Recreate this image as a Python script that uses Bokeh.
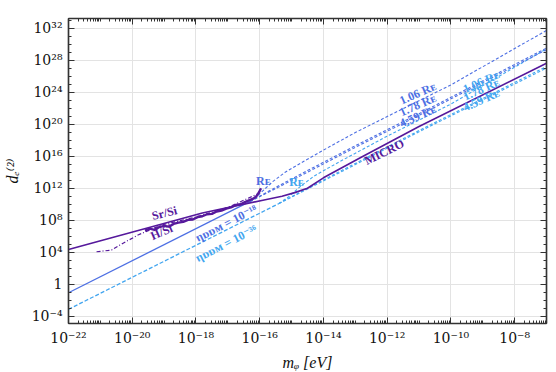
import numpy as np
from bokeh.plotting import figure
from bokeh.models import FixedTicker, CustomJSTickFormatter, LogAxis, Range1d
from bokeh.core.properties import value
from bokeh.embed import file_html
from bokeh.resources import INLINE

# ---------------- data (log10 of m_phi [eV] and log10 of d_e^(2)) ----------------
micro_logm = [-22.0, -17.8, -15.9, -15.3, -14.9, -14.5, -14.0, -12.8, -11.0, -7.0]
micro_logd = [4.34, 8.9, 10.5, 11.0, 11.45, 12.0, 13.3, 15.9, 19.7, 27.6]

srsi_logm = [-19.6, -19.45, -19.3, -19.15, -19.0, -18.85, -18.7, -18.55, -18.4, -18.25,
             -18.1, -17.95, -17.8, -17.65, -17.5, -17.35, -17.2, -17.05, -16.9, -16.75,
             -16.6, -16.45, -16.3, -16.2, -16.1, -16.02, -15.96]
srsi_logd = [6.7, 6.95, 6.8, 7.15, 7.3, 7.2, 7.55, 7.7, 7.8, 8.05,
             8.1, 8.4, 8.5, 8.75, 8.8, 9.1, 9.2, 9.45, 9.6, 9.9,
             10.0, 10.3, 10.55, 10.7, 11.0, 11.5, 12.0]

hsi_logm = [-21.12, -20.65, -20.39, -19.82, -19.08, -18.5, -18.0, -17.0, -16.0]
hsi_logd = [4.07, 4.28, 4.9, 6.16, 7.41, 7.95, 8.4, 9.6, 11.4]

blue_base_logm = [-22.0, -16.3]
blue_base_logd = [-1.05, 10.35]
light_base_logm = [-22.0, -15.4]
light_base_logd = [-3.12, 10.08]

blue106_logm = [-16.3, -16.0, -15.6, -15.2, -14.6, -13.8, -13.0, -12.0, -10.0, -7.0]
blue106_logd = [10.35, 11.3, 12.8, 14.0, 15.4, 17.2, 18.95, 20.95, 24.9, 31.7]
blue178_logm = [-16.3, -15.5, -14.5, -13.0, -11.0, -7.0]
blue178_logd = [10.35, 12.1, 14.2, 17.3, 21.3, 29.5]
blue459_logm = [-16.3, -15.5, -14.5, -13.0, -11.0, -7.0]
blue459_logd = [10.35, 11.95, 14.0, 17.1, 21.1, 29.3]

light106_logm = [-15.4, -15.1, -14.7, -14.3, -13.5, -12.0, -10.0, -7.0]
light106_logd = [10.08, 10.9, 12.3, 13.5, 15.3, 18.5, 22.5, 29.4]
light178_logm = [-15.4, -14.5, -13.0, -11.0, -7.0]
light178_logd = [10.08, 12.0, 15.1, 19.2, 27.2]
light459_logm = [-15.4, -14.5, -13.0, -11.0, -7.0]
light459_logd = [10.08, 11.9, 14.95, 19.05, 27.0]

x_major_exp = [-22, -20, -18, -16, -14, -12, -10, -8]
y_major_exp = [-4, 0, 4, 8, 12, 16, 20, 24, 28, 32]

# label texts and anchor points
purple_lab_text = ["Sr/Si", "H/Si", "MICRO"]
purple_lab_logm = [-18.99, -19.08, -12.09]
purple_lab_logd = [8.9, 6.53, 16.52]
purple_lab_angle = [14, 24, 26]

blue_lab_text = ["ηᴅᴅᴍ = 10⁻¹⁸", "Rᴇ", "1.06 Rᴇ", "1.78 Rᴇ", "4.59 Rᴇ"]
blue_lab_logm = [-17.05, -15.89, -11.04, -11.04, -11.04]
blue_lab_logd = [7.62, 12.9, 23.85, 22.39, 21.0]
blue_lab_angle = [27, 0, 24, 24, 24]

light_lab_text = ["ηᴅᴅᴍ = 10⁻³⁶", "Rᴇ", "1.06 Rᴇ", "1.78 Rᴇ", "4.59 Rᴇ"]
light_lab_logm = [-17.05, -14.85, -9.05, -9.05, -9.05]
light_lab_logd = [5.12, 12.77, 25.3, 24.35, 23.0]
light_lab_angle = [27, 0, 24, 24, 24]

PURPLE = "#56199c"
BLUE = "#4d6fe3"
LIGHT = "#43a6f0"
SERIF = "Liberation Serif, DejaVu Serif, serif"
TICKFONT = "DejaVu Serif, serif"


def p10(a):
    return [10.0 ** v for v in a]


p = figure(x_axis_type="log", y_axis_type="log",
           x_range=Range1d(1e-22, 1e-7), y_range=Range1d(10 ** -4.89, 10 ** 33.19),
           frame_width=478, frame_height=305,
           min_border_left=67, min_border_top=18, min_border_right=3, min_border_bottom=38,
           output_backend="svg", toolbar_location=None,
           background_fill_color="white", border_fill_color="white")
p.outline_line_color = "#333333"
p.outline_line_width = 1.2

x_major = [10.0 ** e for e in x_major_exp]
x_minor = [m * 10.0 ** e for e in range(-22, -7) for m in range(1, 10) if not (m == 1 and e in x_major_exp)]
y_major = [10.0 ** e for e in y_major_exp]
y_minor = [10.0 ** e for e in range(-5, 34) if e not in y_major_exp]

fmt = CustomJSTickFormatter(code="""
const e = Math.round(Math.log10(tick));
if (e == 0) { return "1"; }
const sup = {"-":"\\u207b","0":"\\u2070","1":"\\u00b9","2":"\\u00b2","3":"\\u00b3","4":"\\u2074","5":"\\u2075","6":"\\u2076","7":"\\u2077","8":"\\u2078","9":"\\u2079"};
let s = "10";
const t = String(e);
for (let i = 0; i < t.length; i++) { s += sup[t[i]]; }
return s;
""")
blank = CustomJSTickFormatter(code="return ' ';")


def style_axis(ax, labels=True):
    ax.axis_line_color = "#333333"
    ax.axis_line_width = 1.5
    ax.major_tick_line_color = "#333333"
    ax.minor_tick_line_color = "#333333"
    ax.major_tick_in = 6
    ax.major_tick_out = 0
    ax.minor_tick_in = 3
    ax.minor_tick_out = 0
    if labels:
        ax.major_label_text_font = TICKFONT
        ax.major_label_text_font_size = "14px"
        ax.major_label_text_color = "#111111"
        ax.major_label_standoff = 6
    else:
        ax.formatter = blank
        ax.major_label_text_font_size = "2px"
        ax.major_label_standoff = 0


p.xaxis.ticker = FixedTicker(ticks=x_major, minor_ticks=x_minor)
p.yaxis.ticker = FixedTicker(ticks=y_major, minor_ticks=y_minor)
p.xaxis.formatter = fmt
p.yaxis.formatter = fmt
style_axis(p.xaxis[0])
style_axis(p.yaxis[0])
p.xaxis.axis_label = "mᵩ [eV]"
p.yaxis.axis_label = "dₑ⁽²⁾"
for ax in (p.xaxis[0], p.yaxis[0]):
    ax.axis_label_text_font = SERIF
    ax.axis_label_text_font_size = "16px"
    ax.axis_label_text_font_style = "italic"
    ax.axis_label_text_color = "#111111"
p.xaxis.axis_label_standoff = 5
p.yaxis.axis_label_standoff = 8

ax_top = LogAxis(ticker=FixedTicker(ticks=x_major, minor_ticks=x_minor))
style_axis(ax_top, labels=False)
p.add_layout(ax_top, "above")
ax_right = LogAxis(ticker=FixedTicker(ticks=y_major, minor_ticks=y_minor))
style_axis(ax_right, labels=False)
p.add_layout(ax_right, "right")

p.xgrid.ticker = FixedTicker(ticks=x_major)
p.ygrid.ticker = FixedTicker(ticks=y_major)
p.grid.grid_line_color = "#e3e3e3"
p.grid.grid_line_width = 1

# ---------------- curves ----------------
p.line(p10(light_base_logm), p10(light_base_logd), line_color=LIGHT, line_width=1.3, line_dash="4 2")
for lm, ld in ((light106_logm, light106_logd), (light178_logm, light178_logd), (light459_logm, light459_logd)):
    p.line(p10(lm), p10(ld), line_color=LIGHT, line_width=1.1, line_dash="3 2")

p.line(p10(blue_base_logm), p10(blue_base_logd), line_color=BLUE, line_width=1.3)
for lm, ld in ((blue106_logm, blue106_logd), (blue178_logm, blue178_logd), (blue459_logm, blue459_logd)):
    p.line(p10(lm), p10(ld), line_color=BLUE, line_width=1.1, line_dash="3 2")

p.line(p10(hsi_logm), p10(hsi_logd), line_color=PURPLE, line_width=1.2, line_dash="4 2 1 2")
p.line(p10(srsi_logm), p10(srsi_logd), line_color=PURPLE, line_width=2.4)
p.line(p10(micro_logm), p10(micro_logd), line_color=PURPLE, line_width=1.6)

# ---------------- labels ----------------
for txt, lm, ld, ang, col in ((purple_lab_text, purple_lab_logm, purple_lab_logd, purple_lab_angle, PURPLE),
                              (blue_lab_text, blue_lab_logm, blue_lab_logd, blue_lab_angle, BLUE),
                              (light_lab_text, light_lab_logm, light_lab_logd, light_lab_angle, LIGHT)):
    p.text(x=p10(lm), y=p10(ld), text=txt, angle=[np.deg2rad(a) for a in ang],
           text_font=value(SERIF), text_font_style="bold", text_font_size="12px",
           text_color=col, text_align="center", text_baseline="middle")

open("out.html", "w").write(file_html(p, INLINE))
